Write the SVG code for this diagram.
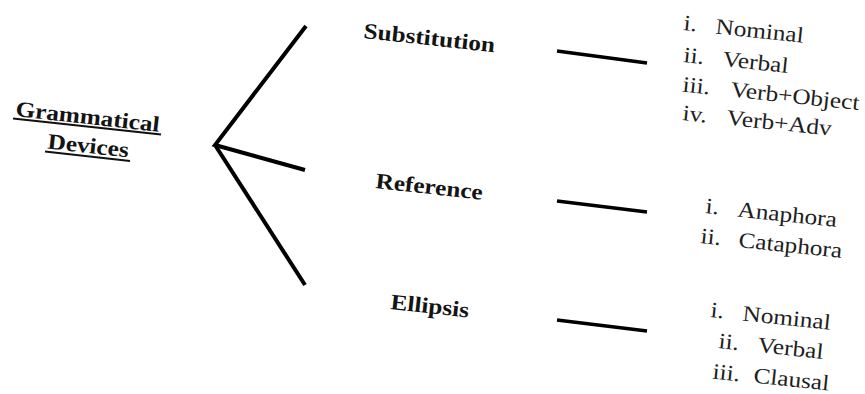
<svg xmlns="http://www.w3.org/2000/svg" width="865" height="394" viewBox="0 0 865 394">
  <style>
    .head { font-family: "Liberation Serif", "Times New Roman", serif; font-size: 22px; font-weight: bold; fill: #141414; }
    .item { font-family: "Liberation Serif", "Times New Roman", serif; font-size: 22px; fill: #1e1e1e; }
    .branch { stroke: #000; stroke-width: 4; stroke-linecap: butt; fill: none; }
    .link { stroke: #000; stroke-width: 3.4; fill: none; }
    .uline { stroke: #111; stroke-width: 2; }
  </style>
  <rect width="865" height="394" fill="#fff"/>

  <!-- tree connectors -->
  <g id="connectors">
    <polyline class="branch" points="306,26 215,145 305,170"/>
    <line class="branch" x1="215" y1="145" x2="305" y2="285"/>
    <line class="link" x1="557" y1="51" x2="647" y2="63"/>
    <line class="link" x1="557" y1="201" x2="647" y2="212"/>
    <line class="link" x1="557" y1="320" x2="647" y2="331"/>
  </g>

  <!-- root -->
  <g id="grammatical-devices">
    <text class="head" transform="translate(15,116) rotate(6.3) scale(1.15,1)">Grammatical</text>
    <line class="uline" x1="13" y1="118.5" x2="161" y2="134.5"/>
    <text class="head" transform="translate(47,148.5) rotate(6.3) scale(1.15,1)">Devices</text>
    <line class="uline" x1="45" y1="151.5" x2="130" y2="161"/>
  </g>

  <!-- branches -->
  <g id="substitution">
    <text class="head" transform="translate(363,38) rotate(6.2) scale(1.15,1)">Substitution</text>
  </g>
  <g id="reference">
    <text class="head" transform="translate(375,188) rotate(6.2) scale(1.15,1)">Reference</text>
  </g>
  <g id="ellipsis">
    <text class="head" transform="translate(390,309) rotate(6.2) scale(1.15,1)">Ellipsis</text>
  </g>

  <!-- leaf lists -->
  <g id="substitution-types">
    <text class="item" transform="translate(683,30) rotate(6) scale(1.15,1)">i.</text>
    <text class="item" transform="translate(715,33.5) rotate(6) scale(1.15,1)">Nominal</text>
    <text class="item" transform="translate(683,62) rotate(6) scale(1.15,1)">ii.</text>
    <text class="item" transform="translate(722,66) rotate(6) scale(1.15,1)">Verbal</text>
    <text class="item" transform="translate(682,91.5) rotate(6) scale(1.15,1)">iii.</text>
    <text class="item" transform="translate(730,96.5) rotate(6) scale(1.15,1)">Verb+Object</text>
    <text class="item" transform="translate(682,120) rotate(6) scale(1.15,1)">iv.</text>
    <text class="item" transform="translate(726,124.6) rotate(6) scale(1.15,1)">Verb+Adv</text>
  </g>
  <g id="reference-types">
    <text class="item" transform="translate(705,213) rotate(6) scale(1.15,1)">i.</text>
    <text class="item" transform="translate(737,216.5) rotate(6) scale(1.15,1)">Anaphora</text>
    <text class="item" transform="translate(700,243) rotate(6) scale(1.15,1)">ii.</text>
    <text class="item" transform="translate(738,247) rotate(6) scale(1.15,1)">Cataphora</text>
  </g>
  <g id="ellipsis-types">
    <text class="item" transform="translate(710,317) rotate(6) scale(1.15,1)">i.</text>
    <text class="item" transform="translate(742,320.5) rotate(6) scale(1.15,1)">Nominal</text>
    <text class="item" transform="translate(718,348) rotate(6) scale(1.15,1)">ii.</text>
    <text class="item" transform="translate(757,352) rotate(6) scale(1.15,1)">Verbal</text>
    <text class="item" transform="translate(712,378.5) rotate(6) scale(1.15,1)">iii.</text>
    <text class="item" transform="translate(753,382.5) rotate(6) scale(1.15,1)">Clausal</text>
  </g>
</svg>
